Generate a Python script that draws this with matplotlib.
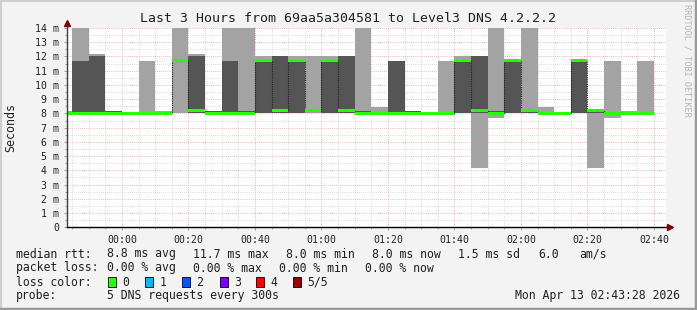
#!/usr/bin/env python3
# -*- coding: utf-8 -*-

import numpy
import matplotlib
matplotlib.use("Agg")
import matplotlib.pyplot as plt
from matplotlib.patches import Rectangle
from matplotlib.lines import Line2D

nan = numpy.nan

# 5 min steps, minutes relative to 00:00, each value is the step start
step_start = numpy.arange(-20, 165, 5)

# sorted pings per step (ms), the middle one is the median
ping1 = [8.0, 8.0, 8.0, 8.0, 8.0, 8.0, 8.0, 8.0, 8.0, 8.0,
         8.0, 8.0, 8.0, 8.0, 8.0, 8.0, 8.0, 8.0, 8.0, 8.0,
         8.0, 8.0, 8.0, 8.0, 8.0, 4.2, 7.7, 8.0, 8.0, 8.0,
         8.0, 8.0, 4.2, 7.7, 8.0, 8.0, nan]
ping2 = [8.0, 8.0, 8.0, 8.0, 8.0, 8.0, 8.0, 11.7, 8.0, 8.0,
         8.0, 8.0, 8.0, 8.0, 8.0, 8.2, 8.0, 8.0, 8.0, 8.0,
         8.0, 8.0, 8.0, 8.0, 8.0, 8.0, 8.0, 8.0, 8.0, 8.0,
         8.0, 8.0, 8.0, 8.0, 8.0, 8.0, nan]
median = [8.0, 8.0, 8.0, 8.0, 8.0, 8.0, 8.0, 11.7, 8.2, 8.0,
          8.0, 8.0, 11.7, 8.2, 11.7, 8.2, 11.7, 8.2, 8.0, 8.0,
          8.0, 8.0, 8.0, 8.0, 11.7, 8.2, 8.0, 11.7, 8.2, 8.0,
          8.0, 11.7, 8.2, 8.0, 8.0, 8.0, nan]
ping4 = [8.0, 11.7, 12.0, 8.2, 8.0, 8.0, 8.0, 11.7, 12.0, 8.2,
         11.7, 8.2, 11.7, 12.0, 11.7, 8.2, 11.7, 12.0, 8.2, 8.0,
         11.7, 8.2, 8.0, 8.0, 11.7, 12.0, 8.2, 11.7, 8.2, 8.0,
         8.0, 11.7, 8.2, 8.0, 8.0, 8.0, nan]
ping5 = [8.2, 14.6, 12.15, 8.2, 8.0, 11.7, 8.2, 14.6, 12.15, 8.2,
         14.6, 14.6, 12.0, 12.0, 12.0, 12.0, 12.0, 12.0, 14.6, 8.45,
         11.7, 8.2, 8.0, 11.7, 12.0, 12.0, 14.6, 11.7, 14.6, 8.45,
         8.0, 11.7, 8.2, 11.7, 8.2, 11.7, nan]

x_ticks = [0, 20, 40, 60, 80, 100, 120, 140, 160]
x_labels = ["00:00", "00:20", "00:40", "01:00", "01:20", "01:40", "02:00", "02:20", "02:40"]
y_ticks = list(range(0, 15))
y_labels = ["0"] + ["%d m" % v for v in range(1, 15)]

loss_labels = ["0", "1", "2", "3", "4", "5/5"]
loss_colors = ["#26ff00", "#00b8ff", "#0059ff", "#7e00ff", "#ff0000", "#a10000"]

t_start, t_end = -16.533, 163.467

W, H = 697, 310
plt.rcParams["font.family"] = "DejaVu Sans Mono"

fig = plt.figure(figsize=(W / 100, H / 100), dpi=100, facecolor="#f3f3f3")

def fx(px):
    return px / W

def fy(py):
    return 1 - py / H

# frame around the image
fig.patches.append(Rectangle((0, 0), 1, 1, transform=fig.transFigure, fill=False,
                             edgecolor="#cfcfcf", lw=3, zorder=0))
fig.add_artist(Line2D([1 - 1 / W, 1 - 1 / W], [0, 1], color="#9a9a9a", lw=2.5))
fig.add_artist(Line2D([0, 1], [1 / H, 1 / H], color="#9a9a9a", lw=2.5))

ax = fig.add_axes([fx(67), fy(227.3), fx(665.5) - fx(67), fy(28) - fy(227.3)])
ax.set_facecolor("white")
ax.set_xlim(t_start, t_end)
ax.set_ylim(0, 14)

p1 = numpy.array(ping1)
p2 = numpy.array(ping2)
p4 = numpy.array(ping4)
p5 = numpy.array(ping5)
med = numpy.array(median)

# smoke
ax.bar(step_start, p5 - p1, bottom=p1, width=5, align="edge", color="#a3a3a3", lw=0, zorder=2)
ax.bar(step_start, p4 - p2, bottom=p2, width=5, align="edge", color="#555555", lw=0, zorder=3)

# median: thin dark step plus green band
edges = numpy.append(step_start, step_start[-1] + 5)
ax.step(edges, numpy.append(med, med[-1]), where="post", color="#202020", lw=0.8,
        ls=(0, (1, 1)), zorder=4)
ax.bar(step_start, 0.2, bottom=med - 0.1, width=5, align="edge", color=loss_colors[0], lw=0, zorder=5)

# grid
ax.set_xticks(x_ticks)
ax.set_xticklabels(x_labels)
ax.set_xticks(numpy.arange(-15, 165, 5), minor=True)
ax.set_yticks(y_ticks)
ax.set_yticklabels(y_labels)
ax.set_yticks(numpy.arange(0.5, 14, 0.5), minor=True)
ax.set_axisbelow(True)
ax.grid(which="minor", color="#d0d0d0", ls=(0, (1, 1.5)), lw=0.6)
ax.grid(which="major", color="#f0a0a0", ls=(0, (1, 1.5)), lw=0.6)
ax.tick_params(which="both", direction="out", length=2.5, width=0.6, color="#909090",
               labelsize=7.1, labelcolor="#202020", pad=3)
ax.tick_params(which="minor", length=1.5)

for s in ax.spines.values():
    s.set_visible(False)
ax.add_line(Line2D([0, 0], [0, 1.02], transform=ax.transAxes, color="#404040", lw=1, clip_on=False, zorder=7))
ax.add_line(Line2D([0, 1.005], [0, 0], transform=ax.transAxes, color="black", lw=1, clip_on=False, zorder=7))
ax.plot([0], [1.025], marker="^", ms=5, color="#7f0000", transform=ax.transAxes, clip_on=False, zorder=8)
ax.plot([1.008], [0], marker=">", ms=5, color="#7f0000", transform=ax.transAxes, clip_on=False, zorder=8)

fig.text(fx(347.5), fy(19), "Last 3 Hours from 69aa5a304581 to Level3 DNS 4.2.2.2",
         ha="center", va="center", fontsize=9.55, color="#202020")
fig.text(fx(11), fy(127), "Seconds", rotation=90, ha="center", va="center", fontsize=8.4, color="#202020")
fig.text(fx(687.5), fy(60), "RRDTOOL / TOBI OETIKER", rotation=270, ha="center", va="center",
         fontsize=6.1, color="#b4b4b4")

# legend
lfs = 8.3
def put(px, py, s, **kw):
    fig.text(fx(px), fy(py), s, va="center", fontsize=lfs, color="#202020", **kw)

put(16, 254, "median rtt:")
for px, s in [(107, "8.8 ms avg"), (193, "11.7 ms max"), (286, "8.0 ms min"),
              (372, "8.0 ms now"), (458, "1.5 ms sd"), (538, "6.0"), (579, "am/s")]:
    put(px, 254, s)

put(16, 268, "packet loss:")
for px, s in [(107, "0.00 % avg"), (193, "0.00 % max"), (279, "0.00 % min"), (365, "0.00 % now")]:
    put(px, 268, s)

put(16, 282, "loss color:")
box_x = [108, 145, 182, 219.5, 256, 293]
for bx, lab, col in zip(box_x, loss_labels, loss_colors):
    fig.patches.append(Rectangle((fx(bx), fy(287)), 8 / W, 10 / H, transform=fig.transFigure,
                                 facecolor=col, edgecolor="black", lw=0.6))
    put(bx + 14.5, 282, lab)

put(16, 296, "probe:")
put(107, 296, "5 DNS requests every 300s")
put(680, 296, "Mon Apr 13 02:43:28 2026", ha="right")

fig.savefig("out.png", dpi=100, facecolor=fig.get_facecolor())
